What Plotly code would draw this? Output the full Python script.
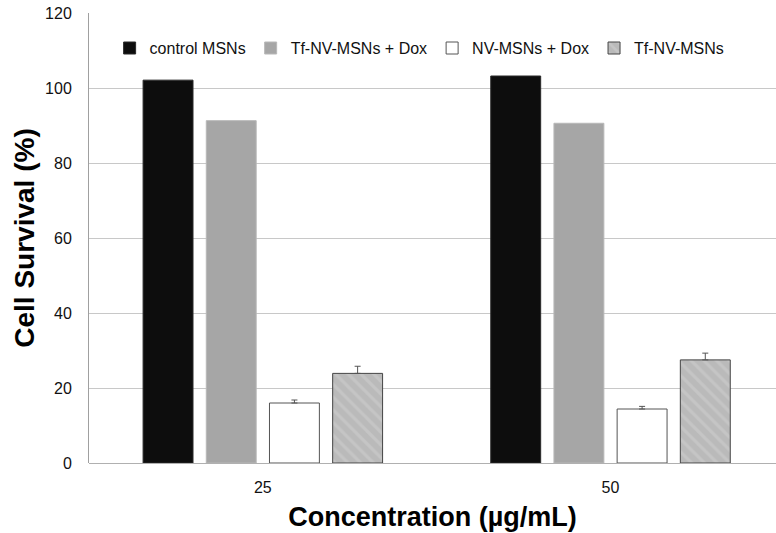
import plotly.graph_objects as go

categories = ["25", "50"]
series_names = ["control MSNs", "Tf-NV-MSNs + Dox", "NV-MSNs + Dox", "Tf-NV-MSNs"]
control_msns = [102.1, 103.2]
tf_nv_dox = [91.3, 90.6]
nv_dox = [16.0, 14.4]
tf_nv = [23.9, 27.5]
nv_dox_err = [0.8, 0.7]
tf_nv_err = [1.9, 1.8]
y_ticks = [0, 20, 40, 60, 80, 100, 120]

FONT = "Liberation Sans, Arial, sans-serif"

fig = go.Figure()
fig.add_trace(go.Bar(
    name=series_names[0], x=categories, y=control_msns,
    marker=dict(color="#0d0d0d", line=dict(color="#2a2a2a", width=1)),
))
fig.add_trace(go.Bar(
    name=series_names[1], x=categories, y=tf_nv_dox,
    marker=dict(color="#a6a6a6", line=dict(color="#b8b8b8", width=1)),
))
fig.add_trace(go.Bar(
    name=series_names[2], x=categories, y=nv_dox,
    marker=dict(color="#ffffff", line=dict(color="#555555", width=1)),
    error_y=dict(type="data", symmetric=False, array=nv_dox_err,
                 arrayminus=[0, 0], color="#555555", thickness=1, width=3),
))
fig.add_trace(go.Bar(
    name=series_names[3], x=categories, y=tf_nv,
    marker=dict(color="#c4c4c4", line=dict(color="#444444", width=1),
                pattern=dict(shape="\\", bgcolor="#bababa", fgcolor="#d0d0d0",
                             size=9, solidity=0.35)),
    error_y=dict(type="data", symmetric=False, array=tf_nv_err,
                 arrayminus=[0, 0], color="#555555", thickness=1, width=3),
))

fig.update_layout(
    width=776, height=533,
    margin=dict(l=89, r=0, t=13, b=70, autoexpand=False),
    paper_bgcolor="white", plot_bgcolor="white",
    barmode="group", bargap=0.273, bargroupgap=0.21,
    font=dict(family=FONT, color="#111111", size=16),
    showlegend=True,
    legend=dict(orientation="h", x=0.03, xanchor="left",
                y=0.922, yanchor="middle",
                font=dict(family=FONT, size=16, color="#111111"),
                bgcolor="rgba(0,0,0,0)", itemwidth=30, traceorder="normal"),
    xaxis=dict(
        type="category", range=[-0.5, 1.476], automargin=False,
        showline=False, showgrid=False,
        ticks="outside", ticklen=10, tickcolor="rgba(0,0,0,0)",
        tickfont=dict(family=FONT, size=16, color="#111111"),
        title=dict(text="<b>Concentration (µg/mL)</b>", standoff=11,
                   font=dict(family=FONT, size=27, color="#000000")),
    ),
    yaxis=dict(
        range=[0, 120], tickvals=y_ticks, automargin=False,
        showgrid=True, gridcolor="#c8c8c8", gridwidth=1,
        showline=True, linecolor="#a0a0a0", linewidth=1,
        zeroline=True, zerolinecolor="#b0b0b0", zerolinewidth=1,
        ticks="outside", ticklen=13, tickcolor="rgba(0,0,0,0)",
        tickfont=dict(family=FONT, size=16, color="#111111"),
        title=dict(text="<b>Cell Survival (%)</b>", standoff=2,
                   font=dict(family=FONT, size=28, color="#000000")),
    ),
)

fig.write_html("out.html", config={"displayModeBar": False},
               post_script="document.body.style.margin='0px';")
